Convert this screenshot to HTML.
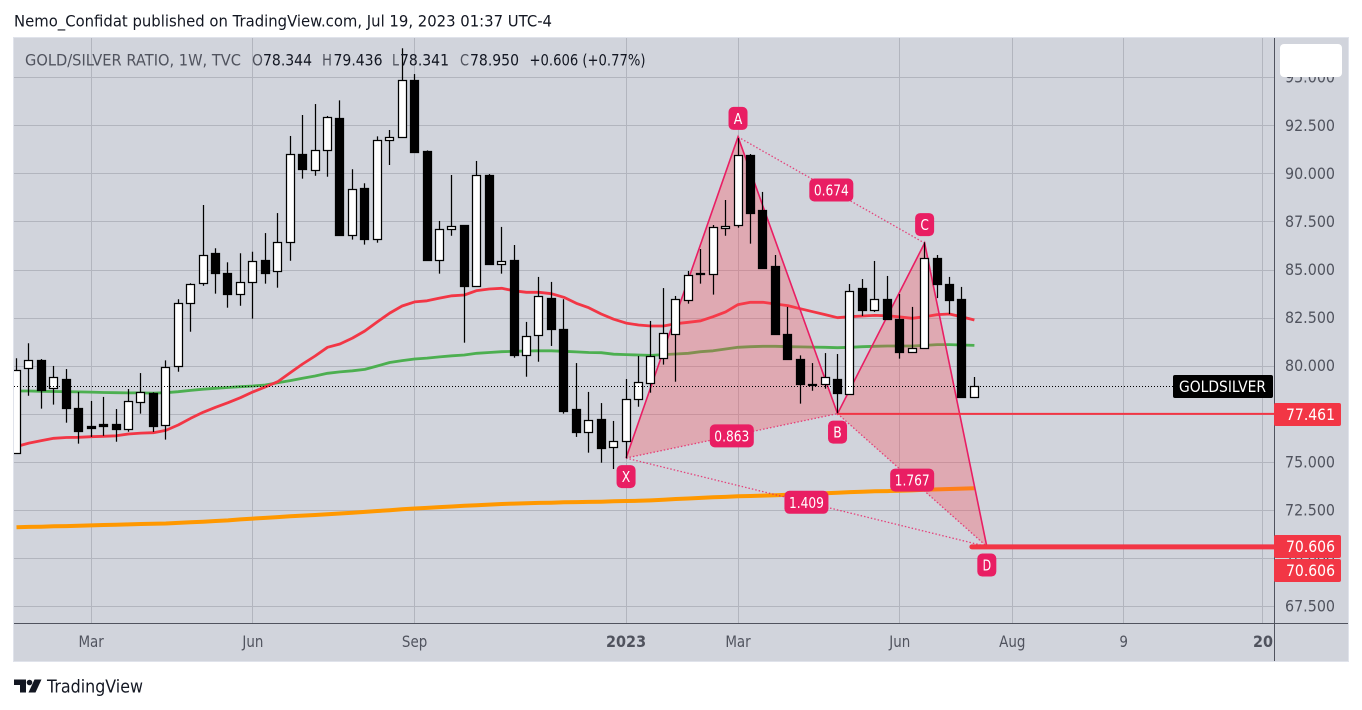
<!DOCTYPE html>
<html>
<head>
<meta charset="utf-8">
<title>GOLD/SILVER RATIO chart</title>
<style>
html,body{margin:0;padding:0;background:#fff;width:1362px;height:710px;overflow:hidden}
svg{display:block;font-family:"DejaVu Sans","Liberation Sans",sans-serif}
</style>
</head>
<body>
<svg id="chart" xmlns="http://www.w3.org/2000/svg" width="1362" height="710" viewBox="0 0 1362 710">
  <defs>
    <clipPath id="pane-clip"><rect x="14" y="38" width="1260" height="585"/></clipPath>
    <clipPath id="scale-clip"><rect x="1275" y="38" width="73" height="585"/></clipPath>
  </defs>
  <text x="14" y="26.5" font-size="16" fill="#131722" textLength="538" lengthAdjust="spacingAndGlyphs">Nemo_Confidat published on TradingView.com, Jul 19, 2023 01:37 UTC-4</text>
  <rect x="13.5" y="37.5" width="1335" height="624" fill="#d1d4dc" stroke="#e0e3eb"/>
  <g id="grid" clip-path="url(#pane-clip)"></g>
  <g id="mas" clip-path="url(#pane-clip)"></g>
  <g id="pattern" clip-path="url(#pane-clip)"></g>
  <g id="candles" clip-path="url(#pane-clip)"></g>
  <g id="levels" clip-path="url(#pane-clip)"></g>
  <g id="badges" clip-path="url(#pane-clip)"></g>
  <g font-size="16">
    <text x="25" y="65.5" fill="#50535e" textLength="216" lengthAdjust="spacingAndGlyphs">GOLD/SILVER RATIO, 1W, TVC</text>
    <text x="252" y="65.5" fill="#50535e" textLength="11" lengthAdjust="spacingAndGlyphs">O</text>
    <text x="263" y="65.5" fill="#131722" textLength="49" lengthAdjust="spacingAndGlyphs">78.344</text>
    <text x="322" y="65.5" fill="#50535e" textLength="10" lengthAdjust="spacingAndGlyphs">H</text>
    <text x="333.5" y="65.5" fill="#131722" textLength="49" lengthAdjust="spacingAndGlyphs">79.436</text>
    <text x="392" y="65.5" fill="#50535e" textLength="7" lengthAdjust="spacingAndGlyphs">L</text>
    <text x="400" y="65.5" fill="#131722" textLength="49" lengthAdjust="spacingAndGlyphs">78.341</text>
    <text x="460" y="65.5" fill="#50535e" textLength="9" lengthAdjust="spacingAndGlyphs">C</text>
    <text x="470" y="65.5" fill="#131722" textLength="49" lengthAdjust="spacingAndGlyphs">78.950</text>
    <text x="529.5" y="65.5" fill="#131722" textLength="116" lengthAdjust="spacingAndGlyphs">+0.606 (+0.77%)</text>
  </g>
  <line x1="1274.5" y1="38" x2="1274.5" y2="661" stroke="#50535e"/>
  <line x1="14" y1="623.5" x2="1348" y2="623.5" stroke="#50535e"/>
  <g id="yticks" clip-path="url(#scale-clip)"></g>
  <g id="xticks"></g>
  <g id="tags"></g>
  <rect x="1280" y="44" width="62" height="33" rx="4" fill="#ffffff"/>
  <g>
    <path fill="#131722" d="M14 679.5H26V692.5H20V685H14Z"/>
    <circle cx="29.5" cy="682.5" r="2.8" fill="#131722"/>
    <path fill="#131722" d="M34.5 679.5H41.5L35.5 692.5H28.5Z"/>
    <text x="47" y="692.5" font-size="18" fill="#131722" textLength="96" lengthAdjust="spacingAndGlyphs">TradingView</text>
  </g>
</svg>
<script>
// ---- chart data (prices) ----
const opens = [75.47,79.89,80.30,78.85,79.28,77.82,76.84,76.94,76.94,76.72,78.12,78.60,76.92,79.97,83.27,84.31,85.88,84.84,83.74,84.36,85.47,84.93,86.44,91.03,90.18,91.22,92.90,86.80,89.25,86.60,91.74,91.90,94.88,91.14,85.50,87.12,87.29,84.15,89.94,85.28,85.47,80.54,81.60,83.54,81.93,77.72,76.56,77.20,75.78,76.09,78.28,79.11,80.41,81.66,83.42,84.83,84.78,87.15,87.32,90.93,88.07,85.16,81.67,80.37,79.02,79.05,79.33,78.54,84.06,82.88,83.49,82.45,80.70,80.93,85.62,84.27,83.44,78.344];
const highs = [80.41,81.19,80.37,80.01,79.85,78.66,78.19,78.40,77.77,78.81,79.64,78.64,80.30,83.48,84.31,88.38,86.13,85.40,85.87,85.95,86.92,87.96,91.97,93.06,93.63,93.01,93.82,90.24,89.51,91.95,92.28,96.53,95.19,91.22,87.55,89.94,87.34,90.67,89.99,87.24,86.30,82.30,84.64,84.38,83.48,80.16,78.66,78.08,77.15,79.33,80.53,82.35,84.06,83.65,84.95,86.09,87.34,88.64,91.86,91.03,89.06,85.78,83.08,80.56,80.16,80.68,80.63,84.27,84.53,85.47,84.69,83.75,83.08,86.44,85.78,84.64,84.12,79.436];
const lows = [75.47,78.46,77.79,78.00,77.06,75.97,76.32,76.38,76.07,76.59,77.53,76.58,76.18,79.71,81.79,84.18,83.77,83.04,83.14,82.47,84.29,84.08,85.48,89.75,89.90,89.85,86.78,86.58,86.32,86.42,90.46,91.90,91.10,85.48,84.81,86.78,81.22,84.15,85.28,84.81,80.44,79.45,80.23,81.05,77.53,76.32,75.50,74.98,74.65,75.21,77.89,78.62,80.08,79.19,83.25,84.29,83.72,86.78,87.20,86.37,85.07,81.64,80.34,78.05,78.72,78.83,77.55,78.54,82.61,82.82,82.42,80.39,80.70,80.93,83.54,82.71,78.36,78.341];
const closes = [79.78,80.30,78.72,79.42,77.79,76.59,76.75,76.85,76.70,78.17,78.64,76.85,79.94,83.27,84.26,85.76,84.81,83.72,84.36,85.45,84.81,86.44,91.02,90.24,91.22,92.94,86.78,89.20,86.58,91.74,91.88,94.86,91.10,85.48,87.12,87.25,84.13,89.92,85.28,85.45,80.54,81.55,83.63,81.90,77.63,76.54,77.18,75.71,76.09,78.28,79.16,80.51,81.71,83.48,84.72,84.76,87.22,87.27,90.96,87.93,85.07,81.64,80.34,79.04,78.97,79.42,78.57,83.89,82.88,83.48,82.42,80.70,80.93,85.61,84.24,83.40,78.36,78.95];
const maRed = [75.82,76.00,76.13,76.25,76.29,76.30,76.33,76.35,76.38,76.47,76.52,76.54,76.66,76.94,77.29,77.60,77.86,78.10,78.36,78.66,78.92,79.19,79.66,80.11,80.53,80.98,81.15,81.46,81.83,82.30,82.76,83.13,83.34,83.40,83.54,83.66,83.70,83.93,84.01,84.05,83.92,83.84,83.84,83.77,83.58,83.27,83.04,82.71,82.44,82.24,82.14,82.09,82.09,82.21,82.28,82.36,82.57,82.82,83.20,83.32,83.32,83.23,83.15,82.99,82.83,82.68,82.52,82.57,82.61,82.64,82.62,82.56,82.49,82.57,82.68,82.71,82.56,82.40];
const maGreen = [78.71,78.71,78.69,78.68,78.67,78.66,78.65,78.63,78.62,78.61,78.61,78.60,78.62,78.67,78.74,78.80,78.85,78.89,78.93,78.97,79.02,79.14,79.25,79.37,79.49,79.63,79.70,79.76,79.83,80.01,80.19,80.29,80.37,80.42,80.48,80.54,80.58,80.67,80.71,80.75,80.77,80.79,80.80,80.80,80.77,80.74,80.71,80.70,80.62,80.60,80.58,80.56,80.60,80.63,80.67,80.75,80.80,80.89,80.98,81.01,81.03,81.03,81.01,81.00,80.99,80.98,80.96,80.98,81.01,81.03,81.05,81.05,81.05,81.08,81.12,81.12,81.10,81.08];
const maOrange = [71.62,71.64,71.65,71.67,71.68,71.70,71.72,71.74,71.75,71.77,71.79,71.80,71.82,71.85,71.88,71.91,71.95,71.98,72.03,72.07,72.11,72.15,72.19,72.23,72.26,72.30,72.34,72.38,72.42,72.47,72.51,72.56,72.60,72.63,72.67,72.70,72.74,72.77,72.80,72.83,72.85,72.87,72.89,72.90,72.92,72.93,72.94,72.95,72.97,72.99,73.00,73.02,73.05,73.09,73.12,73.15,73.18,73.20,73.23,73.25,73.27,73.29,73.31,73.33,73.36,73.39,73.42,73.45,73.47,73.49,73.50,73.52,73.54,73.57,73.59,73.61,73.63,73.65];
const patternNames = ['X','A','B','C','D'];
const patternBars = [49,58,66,73,78];
const patternPrices = [75.22,91.92,77.53,86.40,70.62];
const ratioLabels = ['0.674','0.863','1.409','1.767'];
const priceTicks = [95,92.5,90,87.5,85,82.5,80,77.5,75,72.5,70,67.5];
const timeTickLabels = ['Mar','Jun','Sep','2023','Mar','Jun','Aug','9','20'];
const timeTickBars = [6,19,32,49,58,71,80.05,89,100.2];
const lastPrice = 78.95;
const levelBLine = 77.52;
const levelDLine = 70.6;
const tagValues = ['77.461','70.606','70.606'];

// ---- axis functions ----
function xAt(bar){ return 16.5 + 12.44 * bar; }
function yAt(price){ return 462.3 - (price - 75) * 19.23; }
function snap(v){ return Math.floor(v) + 0.5; }

const NS = 'http://www.w3.org/2000/svg';
function mk(tag, parentId, attrs){
  const el = document.createElementNS(NS, tag);
  for (const k in attrs) el.setAttribute(k, attrs[k]);
  document.getElementById(parentId).appendChild(el);
  return el;
}
function squeeze(el, factor){
  el.setAttribute('textLength', (el.getComputedTextLength() * factor).toFixed(1));
  el.setAttribute('lengthAdjust', 'spacingAndGlyphs');
}

// grid
priceTicks.forEach(function(p){
  const y = snap(yAt(p));
  const el = mk('line','grid',{x1:14,x2:1274,y1:y,y2:y,stroke:'#b2b5be','stroke-width':1});
  
  
});
timeTickBars.forEach(function(b){
  const x = snap(xAt(b));
  const el = mk('line','grid',{x1:x,x2:x,y1:38,y2:623,stroke:'#b2b5be','stroke-width':1});
  
  
});

// moving averages
function maPath(values){
  return values.map(function(v,i){ return (i?'L':'M') + xAt(i).toFixed(1) + ' ' + yAt(v).toFixed(1); }).join('');
}
const orangeLine = mk('path','mas',{d:maPath(maOrange),fill:'none',stroke:'#ff9800','stroke-width':4,'stroke-linejoin':'round'});


const greenLine = mk('path','mas',{d:maPath(maGreen),fill:'none',stroke:'#4caf50','stroke-width':2.8,'stroke-linejoin':'round'});


const redLine = mk('path','mas',{d:maPath(maRed),fill:'none',stroke:'#f23645','stroke-width':2.8,'stroke-linejoin':'round'});



// harmonic pattern
const pts = patternBars.map(function(b,i){ return {x:xAt(b), y:yAt(patternPrices[i])}; });
const fillOne = mk('polygon','pattern',{points:[pts[0],pts[1],pts[2]].map(function(p){return p.x+','+p.y;}).join(' '),fill:'rgba(255,69,83,0.3)'});


const fillTwo = mk('polygon','pattern',{points:[pts[2],pts[3],pts[4]].map(function(p){return p.x+','+p.y;}).join(' '),fill:'rgba(255,69,83,0.3)'});


const dottedPairs = [[1,3],[0,2],[0,4],[2,4]];
dottedPairs.forEach(function(pair){
  const el = mk('line','pattern',{x1:pts[pair[0]].x,y1:pts[pair[0]].y,x2:pts[pair[1]].x,y2:pts[pair[1]].y,stroke:'#e91e63','stroke-width':1.3,'stroke-dasharray':'1.5 2','stroke-opacity':0.8});
  
  
});
const legPath = mk('path','pattern',{d:pts.map(function(p,i){return (i?'L':'M')+p.x+' '+p.y;}).join(''),fill:'none',stroke:'#e91e63','stroke-width':1.6});



// candles
opens.forEach(function(o,i){
  const c = closes[i];
  const up = c >= o;
  const cx = snap(xAt(i));
  const top = snap(yAt(Math.max(o,c)));
  const bot = snap(yAt(Math.min(o,c)));
  const wick = mk('line','candles',{x1:cx,x2:cx,y1:yAt(highs[i]),y2:yAt(lows[i]),stroke:'#000','stroke-width':1.25});
  
  
  const body = mk('rect','candles',{x:cx-4,y:top,width:8,height:Math.max(bot-top,1),fill:up?'#fff':'#000',stroke:'#000','stroke-width':1.25});
  
  
});

// price levels
const lastY = snap(yAt(lastPrice));
const lastLine = mk('line','levels',{x1:14,x2:1173,y1:lastY,y2:lastY,stroke:'#000','stroke-dasharray':'1 2'});


const bLine = mk('line','levels',{x1:pts[2].x,x2:1274,y1:yAt(levelBLine),y2:yAt(levelBLine),stroke:'#f23645','stroke-width':2});


const dLine = mk('line','levels',{x1:xAt(76.8),x2:1274,y1:yAt(levelDLine),y2:yAt(levelDLine),stroke:'#f23645','stroke-width':5,'stroke-linecap':'round'});


const symBox = mk('rect','levels',{x:1173,y:375,width:100,height:23,rx:2,fill:'#000'});


const symText = mk('text','levels',{x:1179,y:392,'font-size':16,fill:'#fff',textLength:87,lengthAdjust:'spacingAndGlyphs'});
symText.textContent = 'GOLDSILVER';



// pattern badges
function badge(cx, cy, w, textW, label, name){
  const r = mk('rect','badges',{x:cx-w/2,y:cy-11.5,width:w,height:23,rx:5,fill:'#e91e63'});
  
  
  const t = mk('text','badges',{x:cx-textW/2,y:cy+5.5,'font-size':15,fill:'#fff',textLength:textW,lengthAdjust:'spacingAndGlyphs'});
  t.textContent = label;
  
  
}
const badgeDirs = [1,-1,1,-1,1];
pts.forEach(function(p,i){
  badge(p.x, p.y + badgeDirs[i]*18.5, 19, 8.5, patternNames[i], 'point-label');
});
dottedPairs.forEach(function(pair,i){
  const a = pts[pair[0]], b = pts[pair[1]];
  badge((a.x+b.x)/2, (a.y+b.y)/2, 44, 35, ratioLabels[i], 'ratio-label');
});

// axes
priceTicks.forEach(function(p){
  const t = mk('text','yticks',{x:1285,y:yAt(p)+5,'font-size':16,fill:'#50535e',textLength:50,lengthAdjust:'spacingAndGlyphs'});
  t.textContent = p.toFixed(3);
  
  
});
timeTickLabels.forEach(function(lab,i){
  const bold = lab === '2023' || lab === '20';
  const t = mk('text','xticks',{x:xAt(timeTickBars[i]),y:647,'text-anchor':'middle','font-size':16,'font-weight':bold?'bold':'normal',fill:'#50535e'});
  t.textContent = lab;
  
  
  squeeze(t, bold ? 0.9 : 0.84);
});

// price tags
function tag(top, label){
  const r = mk('rect','tags',{x:1274,y:top,width:67,height:23,rx:2,fill:'#f23645'});
  
  
  const t = mk('text','tags',{x:1286,y:top+17,'font-size':16,fill:'#fff',textLength:49,lengthAdjust:'spacingAndGlyphs'});
  t.textContent = label;
  
  
}
tag(403, tagValues[0]);
tag(535, tagValues[1]);
tag(559, tagValues[2]);
</script>
</body>
</html>
